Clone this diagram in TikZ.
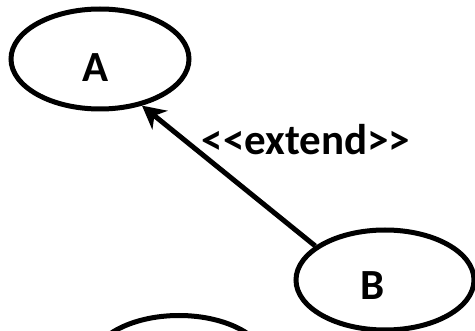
\documentclass[tikz,border=0pt]{standalone}
\usepackage{fontspec}
\setmainfont{Carlito}
\usetikzlibrary{shapes.geometric,arrows.meta}
\begin{document}
\begin{tikzpicture}[x=1pt,y=-1pt,
  usecase/.style={ellipse, draw, line width=5pt, minimum width=178pt, minimum height=100pt, inner sep=0pt},
  lbl/.style={font=\fontsize{43}{45}\selectfont\bfseries, inner sep=0pt},
  extarrow/.style={line width=5pt, -{Stealth[length=23pt,width=24pt,inset=7pt]}}]
\useasboundingbox (0,0) rectangle (475,331);
\clip (0,0) rectangle (475,331);
\node[usecase] (A) at (100,59) {};
\node[usecase] (B) at (385,280) {};
\node[usecase] (C) at (179,365.5) {};
\node[lbl] (Atext) at (96,68) {A};
\node[lbl] (Btext) at (373,285.5) {B};
\node[lbl] (ext) at (306,139.5) {<{}<extend>{}>};
\draw[extarrow] (B.154) -- (A.-48);
\end{tikzpicture}
\end{document}
